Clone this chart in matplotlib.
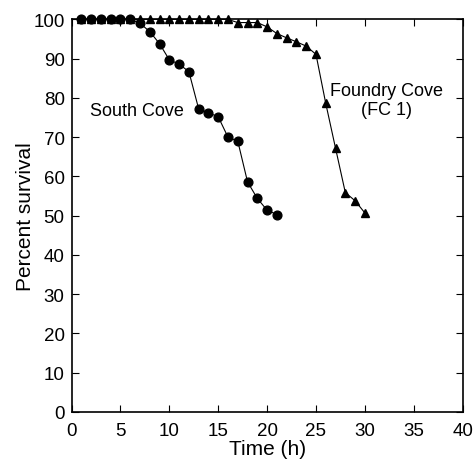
import matplotlib
matplotlib.use("Agg")
import matplotlib.pyplot as plt

plt.rcParams['font.family'] = ['Liberation Sans', 'DejaVu Sans']

south_time = list(range(1, 22))
south_surv = [100, 100, 100, 100, 100, 100, 99.0, 96.9, 93.8, 89.7, 88.6, 86.7,
              77.2, 76.2, 75.2, 70.0, 69.0, 58.6, 54.4, 51.4, 50.3]

fc_time = list(range(1, 31))
fc_surv = [100] * 16 + [99.2, 99.2, 99.2, 98.1, 96.4, 95.3, 94.3, 93.2, 91.1,
                        78.6, 67.2, 55.9, 53.8, 50.7]

x_ticks = [0, 5, 10, 15, 20, 25, 30, 35, 40]
y_ticks = [0, 10, 20, 30, 40, 50, 60, 70, 80, 90, 100]

fig = plt.figure(figsize=(4.74, 4.64), dpi=100)
ax = fig.add_axes([0.151, 0.110, 0.825, 0.846])

ax.plot(fc_time, fc_surv, color='black', lw=0.8, marker='^', markersize=6.3,
        markerfacecolor='black', markeredgecolor='black', clip_on=False, zorder=3)
ax.plot(south_time, south_surv, color='black', lw=0.8, marker='o', markersize=6.3,
        markerfacecolor='black', markeredgecolor='black', clip_on=False, zorder=4)

ax.set_xlim(0, 40)
ax.set_ylim(0, 100)
ax.set_xticks(x_ticks)
ax.set_yticks(y_ticks)
ax.tick_params(direction='in', length=5, width=0.8, top=True, right=True,
               labelsize=13.5)
ax.tick_params(axis='x', pad=7)
ax.tick_params(axis='y', pad=5)
for s in ax.spines.values():
    s.set_linewidth(1.2)

ax.set_xlabel('Time (h)', fontsize=15, labelpad=0.5)
ax.set_ylabel('Percent survival', fontsize=15, labelpad=-1)

ax.text(6.7, 76.7, 'South Cove', fontsize=13, ha='center', va='center')
ax.text(32.2, 79.5, 'Foundry Cove\n(FC 1)', fontsize=13, ha='center', va='center',
        linespacing=1.15)

fig.savefig('out.png', dpi=100)
